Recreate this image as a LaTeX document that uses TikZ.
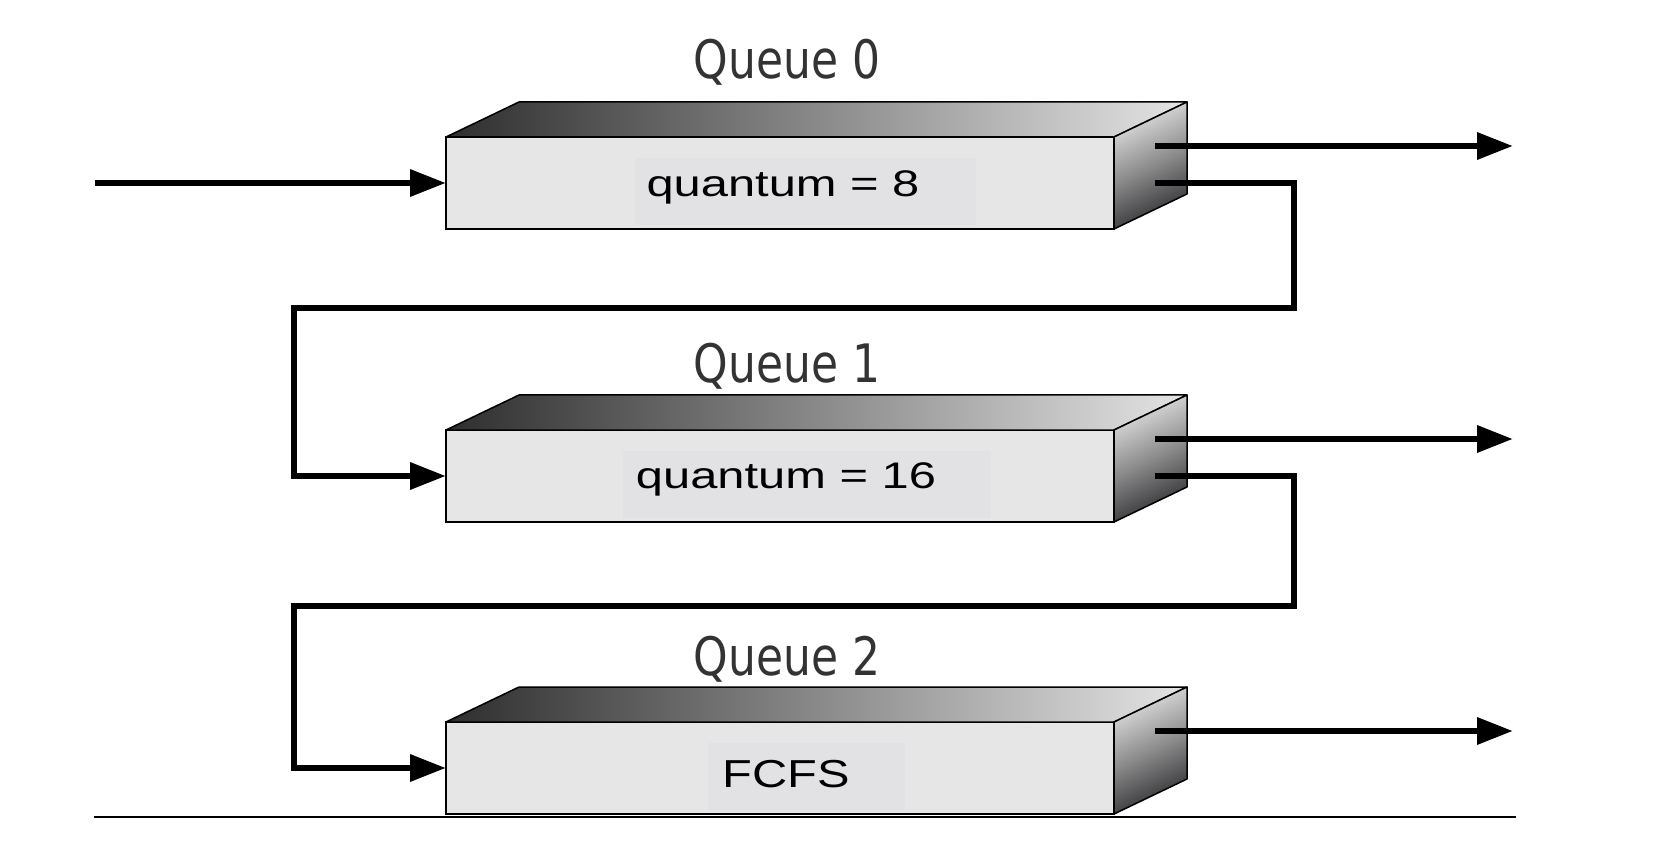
\documentclass[tikz,border=0pt]{standalone}
\usepackage{fontspec}
\usepackage{graphicx}
\usetikzlibrary{arrows.meta}
\newfontfamily\qfont{DejaVu Sans}
\newfontfamily\afont{Liberation Sans}
\definecolor{face}{HTML}{E6E6E6}
\definecolor{labbg}{HTML}{E2E2E5}
\definecolor{topL}{HTML}{2E2E2E}
\definecolor{topR}{HTML}{E4E4E4}
\definecolor{rfT}{HTML}{E2E2E2}
\definecolor{rfM}{HTML}{8C8C8C}
\definecolor{rfB}{HTML}{2E2E32}
\definecolor{qgray}{HTML}{333333}
\tikzset{
  front/.style={draw=black, line width=2pt, fill=face, minimum width=668pt,
    minimum height=92pt, inner sep=0pt, outer sep=0pt},
  topface/.style={draw=black, line width=1.5pt, line join=round,
    left color=topL, right color=topR},
  rightface/.style={draw=black, line width=1.5pt, line join=round,
    top color=rfT, bottom color=rfB, middle color=rfM, shading angle=25.6},
  qlab/.style={font=\qfont\fontsize{53}{58}\selectfont, text=qgray, inner sep=0pt, anchor=base},
  inner/.style={font=\afont, text=black, inner sep=0pt, anchor=base},
  arr/.style={line width=6.5pt, -{Triangle[length=36pt, width=26pt]}},
}
\begin{document}
\begin{tikzpicture}[x=1pt, y=-1pt]
\useasboundingbox (0,0) rectangle (1668,866);
\foreach \i/\t/\rl/\rr/\lb in {0/137/635/976/79, 1/430/623/991/383, 2/722/708/905/675} {
  \node[front] (q\i) at (780,{\t+46}) {};
  \draw[topface] (q\i.north west) -- ++(73,-35) -- ++(668,0) -- (q\i.north east) -- cycle;
  \draw[rightface] (q\i.north east) -- ++(73,-35) -- ++(0,92) -- (q\i.south east) -- cycle;
  \fill[labbg] (\rl,{\t+21}) rectangle (\rr,{\t+88});
  \node[qlab] (lab\i) at (787,\lb) {\scalebox{0.83}[1]{Queue \i}};
  \coordinate (oa\i) at (1155,{\t+9});
  \coordinate (ob\i) at (1155,{\t+46});
  \coordinate (ea\i) at (1513,{\t+9});
}
\node[inner] (x0) at (783,197) {\scalebox{1.32}[1]{\fontsize{37}{40}\selectfont quantum = 8}};
\node[inner] (x1) at (786,488) {\scalebox{1.32}[1]{\fontsize{37}{40}\selectfont quantum = 16}};
\node[inner] (x2) at (786,787) {\scalebox{1.25}[1]{\fontsize{39}{42}\selectfont FCFS}};
% input
\coordinate (in) at (95,183);
\draw[arr] (in) -- (q0.west);
% outputs
\foreach \i in {0,1,2} { \draw[arr] (oa\i) -- (ea\i); }
% feedback loops
\coordinate (r0) at (1294,308);
\coordinate (l0) at (294,308);
\coordinate (r1) at (1294,606);
\coordinate (l1) at (294,606);
\draw[arr] (ob0) -| (r0) -- (l0) |- (q1.west);
\draw[arr] (ob1) -| (r1) -- (l1) |- (q2.west);
% base line
\coordinate (bl) at (94,817);
\coordinate (br) at (1516,817);
\draw[line width=1.5pt] (bl) -- (br);
\end{tikzpicture}
\end{document}
